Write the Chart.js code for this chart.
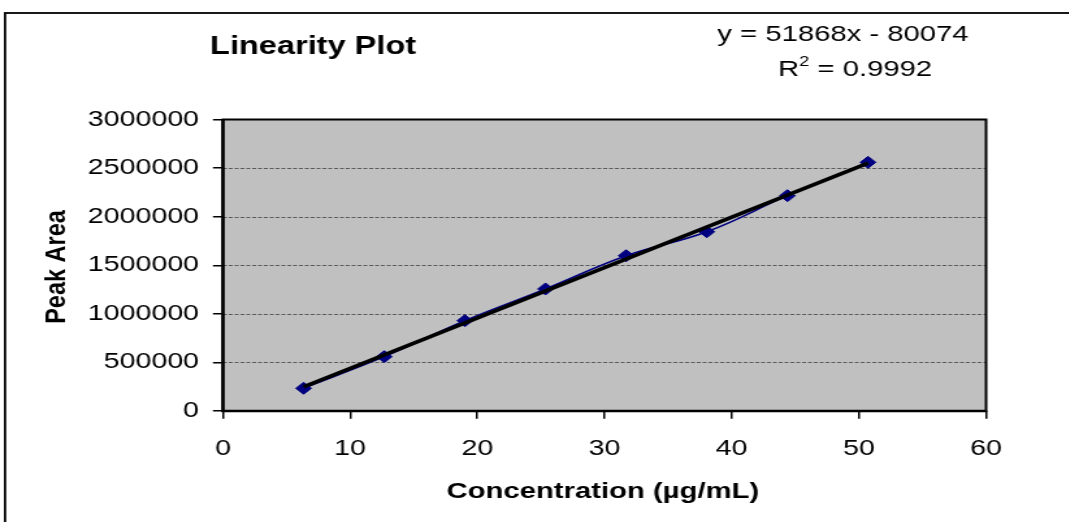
<!DOCTYPE html>
<html lang="en">
<head>
    <meta charset="UTF-8">
    <title>Linearity Plot</title>
    <script src="https://cdn.jsdelivr.net/npm/chart.js"></script>
    <style>
        body { margin: 0; background: #fff; overflow: hidden; }
        /* the original picture is stretched sideways, so draw narrow and stretch */
        #wrap { position: absolute; left: 0; top: 0; width: 822px; height: 522px;
                transform: scaleX(1.3); transform-origin: 0 0; }
    </style>
</head>
<body>
    <div id="wrap"><canvas id="linChart" width="822" height="522"></canvas></div>

    <script>
        // data
        const concentration = [6.34, 12.68, 19.02, 25.36, 31.70, 38.04, 44.38, 50.72];
        const peakArea = [234000, 559000, 929000, 1256000, 1598000, 1845000, 2216000, 2559000];
        // trendline end points (y = 51868x - 80074)
        const trendX = [6.34, 50.72];
        const trendY = [248800, 2550500];
        const xTicks = [0, 10, 20, 30, 40, 50, 60];
        const yTicks = [0, 500000, 1000000, 1500000, 2000000, 2500000, 3000000];

        const font = 'Liberation Sans, Arial, sans-serif';

        const frame = {
            id: 'frame',
            beforeDatasetsDraw(chart) {
                const ctx = chart.ctx;
                const a = chart.chartArea;
                const y = chart.scales.y;
                ctx.save();
                ctx.fillStyle = '#c0c0c0';
                ctx.fillRect(a.left, a.top, a.right - a.left, a.bottom - a.top);

                // dashed horizontal grid
                ctx.strokeStyle = '#5a5a5a';
                ctx.lineWidth = 1;
                ctx.setLineDash([3, 1.5]);
                yTicks.forEach(v => {
                    if (v === 0 || v === yTicks[yTicks.length - 1]) return;
                    const py = Math.round(y.getPixelForValue(v)) + 0.5;
                    ctx.beginPath();
                    ctx.moveTo(a.left, py);
                    ctx.lineTo(a.right, py);
                    ctx.stroke();
                });
                ctx.setLineDash([]);

                ctx.strokeStyle = '#000';
                ctx.lineWidth = 2;
                ctx.strokeRect(a.left, a.top, a.right - a.left, a.bottom - a.top);
                // axes a bit heavier
                ctx.lineWidth = 2.5;
                ctx.beginPath();
                ctx.moveTo(a.left, a.top);
                ctx.lineTo(a.left, a.bottom);
                ctx.lineTo(a.right, a.bottom);
                ctx.stroke();
                ctx.restore();
            },
            afterDraw(chart) {
                const ctx = chart.ctx;
                ctx.save();
                // outer chart border
                ctx.strokeStyle = '#000';
                ctx.lineWidth = 1.8;
                ctx.strokeRect(3.9, 13, 900, 600);

                ctx.fillStyle = '#000';
                ctx.textBaseline = 'middle';
                ctx.textAlign = 'center';
                ctx.font = 'bold 25px ' + font;
                ctx.fillText('Linearity Plot', 240.8, 47);

                ctx.font = '22.5px ' + font;
                ctx.fillText('y = 51868x - 80074', 648.5, 35);

                // R² line with superscript
                const t1 = 'R', t2 = '2', t3 = ' = 0.9992';
                ctx.font = '22.5px ' + font;
                const w1 = ctx.measureText(t1).width;
                const w3 = ctx.measureText(t3).width;
                ctx.font = '14px ' + font;
                const w2 = ctx.measureText(t2).width;
                let x0 = 657.7 - (w1 + w2 + w3) / 2;
                ctx.textAlign = 'left';
                ctx.font = '22.5px ' + font;
                ctx.fillText(t1, x0, 70);
                ctx.font = '14px ' + font;
                ctx.fillText(t2, x0 + w1, 62);
                ctx.font = '22.5px ' + font;
                ctx.fillText(t3, x0 + w1 + w2, 70);

                ctx.textAlign = 'center';
                ctx.font = 'bold 22.5px ' + font;
                ctx.fillText('Concentration (µg/mL)', 463.8, 492);

                // vertical title is barely stretched in the original
                ctx.translate(43.8, 267);
                ctx.scale(1 / 1.1, 1);
                ctx.rotate(-Math.PI / 2);
                ctx.font = 'bold 23.5px ' + font;
                ctx.fillText('Peak Area', 0, 0);
                ctx.restore();
            }
        };

        new Chart(document.getElementById('linChart'), {
            type: 'scatter',
            data: {
                datasets: [{
                    label: 'Linear trend',
                    data: trendX.map((x, i) => ({ x: x, y: trendY[i] })),
                    showLine: true,
                    borderColor: '#000',
                    borderWidth: 3.5,
                    pointRadius: 0
                }, {
                    label: 'Peak Area',
                    data: concentration.map((x, i) => ({ x: x, y: peakArea[i] })),
                    showLine: true,
                    tension: 0.4,
                    borderColor: '#000080',
                    borderWidth: 1.5,
                    pointStyle: 'rectRot',
                    pointRadius: 6,
                    pointBackgroundColor: '#000080',
                    pointBorderColor: '#000080',
                    pointBorderWidth: 1
                }]
            },
            options: {
                responsive: false,
                animation: false,
                devicePixelRatio: 1,
                layout: { padding: { top: 119.5, right: 63.5, left: 0, bottom: 0 } },
                plugins: {
                    legend: { display: false },
                    tooltip: { enabled: false },
                    title: { display: false }
                },
                scales: {
                    x: {
                        type: 'linear',
                        min: 0,
                        max: 60,
                        afterBuildTicks: s => { s.ticks = xTicks.map(v => ({ value: v })); },
                        afterFit: s => { s.height = 111; },
                        grid: { drawOnChartArea: false, tickLength: 7.7, color: '#000', lineWidth: 1.5 },
                        border: { display: false },
                        ticks: { color: '#000', font: { family: font, size: 22 }, padding: 17, maxRotation: 0 }
                    },
                    y: {
                        min: 0,
                        max: 3000000,
                        afterBuildTicks: s => { s.ticks = yTicks.map(v => ({ value: v })); },
                        afterFit: s => { s.width = 171.5; },
                        grid: { drawOnChartArea: false, tickLength: 7.7, color: '#000', lineWidth: 1.5 },
                        border: { display: false },
                        ticks: { color: '#000', font: { family: font, size: 22 }, padding: 10.7, callback: v => String(v) }
                    }
                }
            },
            plugins: [frame]
        });
    </script>
</body>
</html>
